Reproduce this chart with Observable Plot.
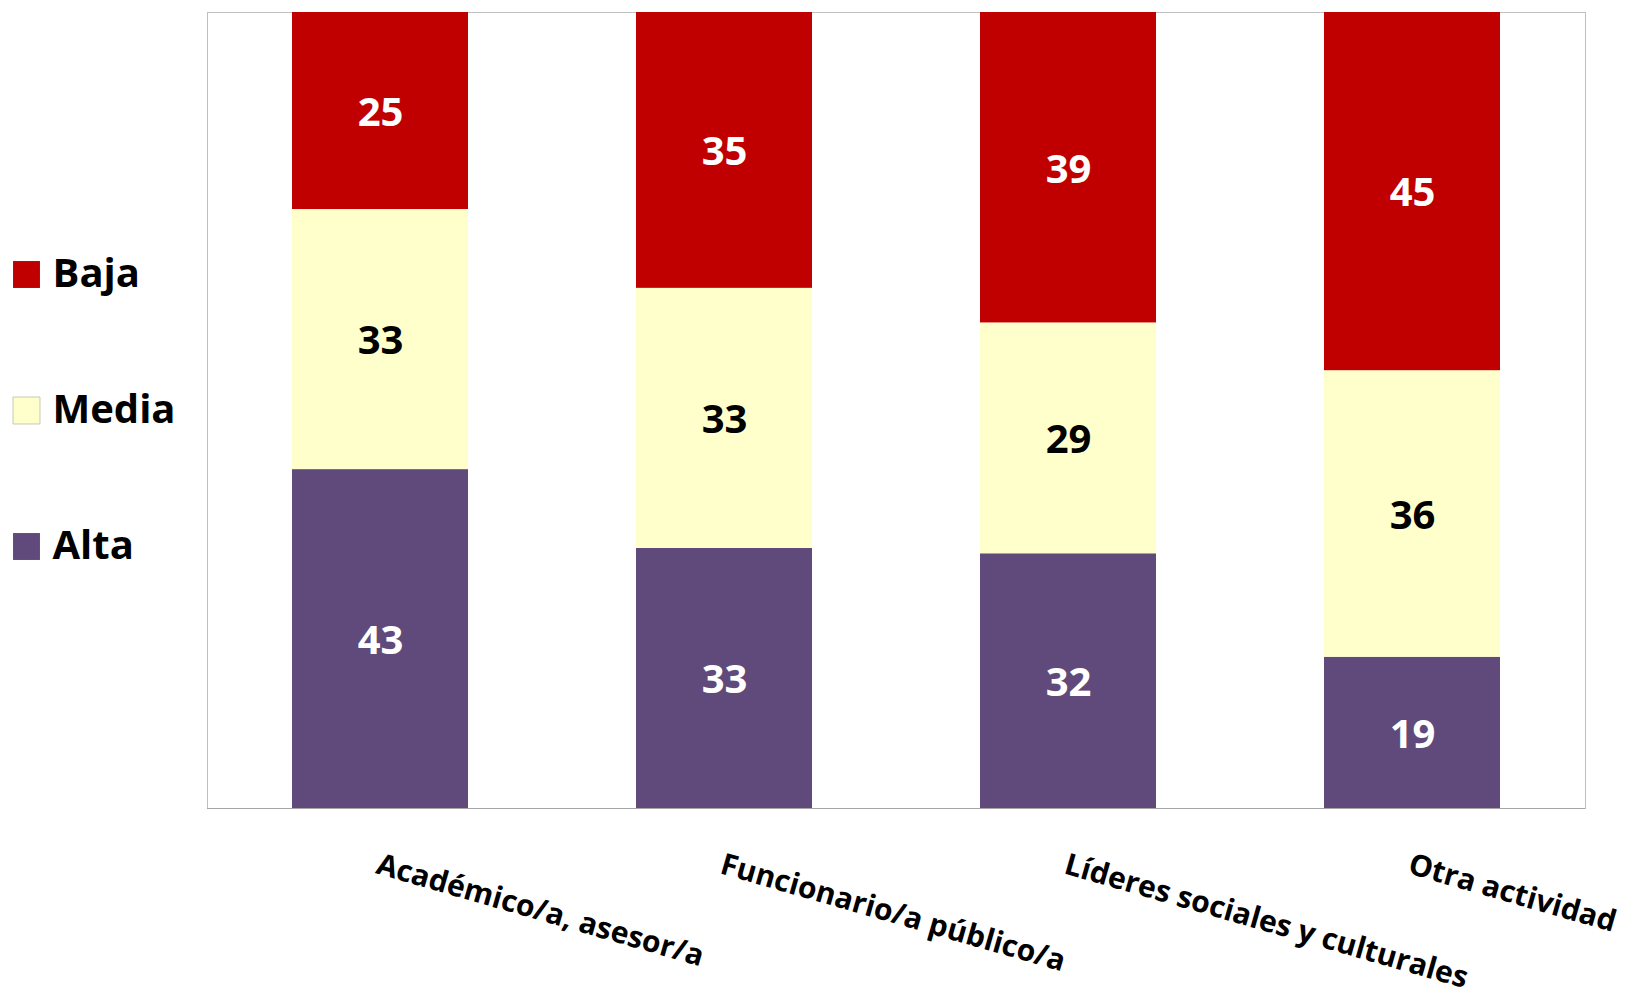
<!DOCTYPE html>
<html>
<head>
<meta charset="utf-8">
<script src="https://cdn.jsdelivr.net/npm/d3@7"></script>
<script src="https://cdn.jsdelivr.net/npm/@observablehq/plot@0.6"></script>
<style>
  html, body { margin: 0; padding: 0; background: #fff; }
  #chart svg { display: block; }
</style>
</head>
<body>
<div id="chart"></div>
<script>
const categories = ["Académico/a, asesor/a", "Funcionario/a público/a", "Líderes sociales y culturales", "Otra actividad"];
const levels = ["Alta", "Media", "Baja"];
const alta = [43, 33, 32, 19];
const media = [33, 33, 29, 36];
const baja = [25, 35, 39, 45];
const legendOrder = ["Baja", "Media", "Alta"];

const colors = {Alta: "#604A7B", Media: "#FFFFCC", Baja: "#C00000"};
const textColors = {Alta: "#FFFFFF", Media: "#000000", Baja: "#FFFFFF"};
const series = {Alta: alta, Media: media, Baja: baja};

const data = [];
levels.forEach(level => {
  categories.forEach((cat, i) => data.push({cat, level, value: series[level][i]}));
});

const FONT = "'Open Sans', Lato, sans-serif";

const legendMarks = [];
legendOrder.forEach((lvl, i) => {
  const dy = (i - 1) * 136;
  legendMarks.push(Plot.dot([lvl], {
    frameAnchor: "left", dx: -181, dy,
    symbol: "square", r: 15.2,
    fill: colors[lvl],
    stroke: lvl === "Media" ? "#C8C8B0" : "none", strokeWidth: 1
  }));
  legendMarks.push(Plot.text([lvl], {
    frameAnchor: "left", dx: -155, dy, text: d => d,
    textAnchor: "start", fontSize: 40, fontWeight: "bold", fill: "#000",
    fontFamily: FONT
  }));
});

const chart = Plot.plot({
  width: 1627,
  height: 996,
  marginLeft: 207,
  marginRight: 42,
  marginTop: 12,
  marginBottom: 188,
  style: {fontFamily: FONT, background: "#fff"},
  x: {domain: categories, paddingInner: 0.488, paddingOuter: 0.244, axis: null},
  y: {domain: [0, 1], axis: null},
  marks: [
    Plot.frame({stroke: "#BFBFBF"}),
    Plot.barY(data, Plot.stackY({
      x: "cat", y: "value", z: "level", offset: "normalize",
      fill: d => colors[d.level]
    })),
    Plot.ruleY([0], {stroke: "#A6A6A6"}),
    Plot.text(data, Plot.stackY({
      x: "cat", y: "value", z: "level", offset: "normalize",
      text: d => String(d.value),
      fill: d => textColors[d.level],
      fontSize: 40, fontWeight: "bold", fontFamily: FONT, dy: 2
    })),
    Plot.text(categories, {
      x: d => d, text: d => d, frameAnchor: "bottom",
      dy: 44, rotate: 16, textAnchor: "start", lineAnchor: "top",
      fontSize: 30, fontWeight: "bold", fill: "#000", fontFamily: FONT
    }),
    ...legendMarks
  ]
});

document.getElementById("chart").appendChild(chart);
</script>
</body>
</html>
